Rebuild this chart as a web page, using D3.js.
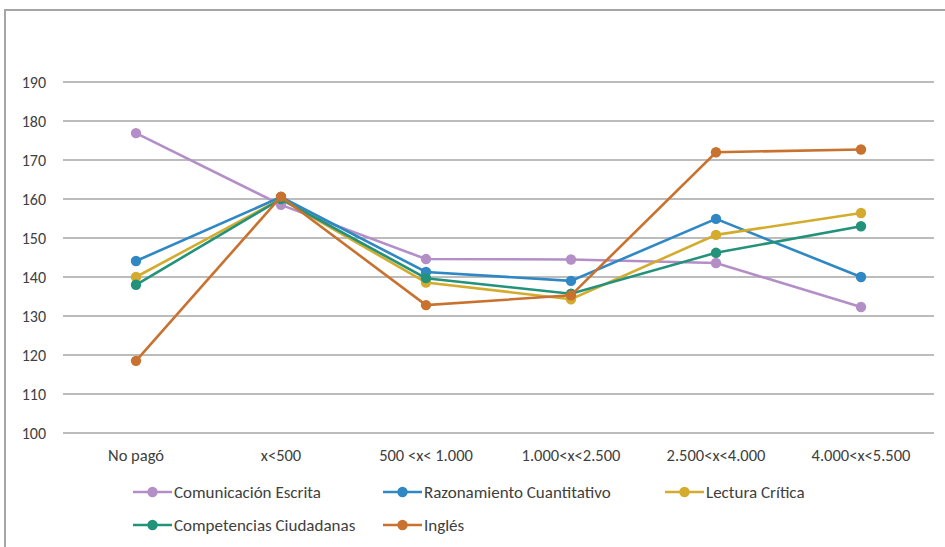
<!DOCTYPE html>
<html><head><meta charset="utf-8">
<script src="https://cdn.jsdelivr.net/npm/d3@7"></script>
<style>
body{margin:0;background:#fff;}
svg text{font-family:Carlito,"Liberation Sans Narrow","DejaVu Sans Condensed","Liberation Sans",sans-serif;font-size:16.5px;fill:#404040;}
</style></head><body>
<svg id="c" width="945" height="547"></svg>
<script>
const categories = ["No pagó","x<500","500 <x< 1.000","1.000<x<2.500","2.500<x<4.000","4.000<x<5.500"];
const seriesNames = ["Comunicación Escrita","Razonamiento Cuantitativo","Lectura Crítica","Competencias Ciudadanas","Inglés"];
const comunicacion = [176.9,158.5,144.6,144.5,143.6,132.3];
const razonamiento = [144.1,160.5,141.3,139.0,154.9,140.0];
const lectura = [140.0,160.0,138.6,134.3,150.8,156.4];
const competencias = [138.0,160.0,139.7,135.7,146.2,153.0];
const ingles = [118.5,160.6,132.8,135.3,172.0,172.7];
const yTicks = [100,110,120,130,140,150,160,170,180,190];
const colors = ["#B48FC7","#2F87C4","#D3AC2E","#23927A","#C9722F"];
const values = [comunicacion,razonamiento,lectura,competencias,ingles];

const svg = d3.select("#c");
svg.append("path").attr("d","M5,560 L5,10 L960,10").attr("fill","none").attr("stroke","#A5A5A5").attr("stroke-width",2);

const x = d3.scaleBand().domain(categories).range([63.5,933.5]);
const y = d3.scaleLinear().domain([100,190]).range([433,82]);

const grid = svg.append("g");
yTicks.forEach(t=>{
  grid.append("line").attr("x1",63).attr("x2",934).attr("y1",y(t)).attr("y2",y(t))
    .attr("stroke","#A6A6A6").attr("stroke-width",1.3);
});
const yAxis = svg.append("g").attr("transform","translate(53,0)")
  .call(d3.axisLeft(y).tickValues(yTicks).tickSize(0).tickPadding(7));
yAxis.select(".domain").remove();
yAxis.selectAll("text").style("font-size","16px").attr("fill","#404040");

const xAxis = svg.append("g").attr("transform","translate(0,447)")
  .call(d3.axisBottom(x).tickSize(0).tickPadding(2));
xAxis.select(".domain").remove();
xAxis.selectAll("text").style("font-size","16.5px").attr("fill","#404040");

const line = d3.line().x((d,i)=>x(categories[i])+x.bandwidth()/2).y(d=>y(d));
values.forEach((vals,k)=>{
  const g = svg.append("g");
  g.append("path").attr("d",line(vals)).attr("fill","none").attr("stroke",colors[k]).attr("stroke-width",2.6);
  g.selectAll("circle").data(vals).join("circle")
    .attr("cx",(d,i)=>x(categories[i])+x.bandwidth()/2).attr("cy",d=>y(d)).attr("r",5.2).attr("fill",colors[k]);
});

const legPos = [[133,492],[383,492],[665,492],[133,525],[383,525]];
seriesNames.forEach((n,k)=>{
  const [lx,ly] = legPos[k];
  const g = svg.append("g").attr("transform",`translate(${lx},${ly})`);
  g.append("line").attr("x1",0).attr("x2",39).attr("y1",0).attr("y2",0).attr("stroke",colors[k]).attr("stroke-width",2.6);
  g.append("circle").attr("cx",19.5).attr("cy",0).attr("r",5.2).attr("fill",colors[k]);
  g.append("text").attr("x",41).attr("y",6).style("font-size","17px").text(n);
});
</script>
</body></html>
